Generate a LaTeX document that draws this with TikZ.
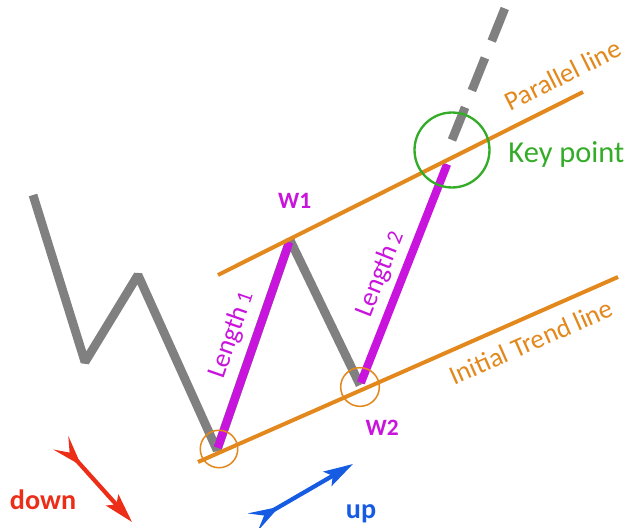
\documentclass[tikz,border=0pt]{standalone}
\usepackage{fontspec}
\setmainfont{Carlito}
\usetikzlibrary{arrows.meta,positioning}
\definecolor{wgray}{RGB}{128,128,128}
\definecolor{wpurple}{RGB}{200,20,220}
\definecolor{worange}{RGB}{226,136,28}
\definecolor{wgreen}{RGB}{52,172,40}
\definecolor{wred}{RGB}{236,46,24}
\definecolor{wblue}{RGB}{22,92,226}

\begin{document}
\begin{tikzpicture}[x=0.03cm,y=-0.03cm,
            wave/.style={wgray,line width=7.5pt,line join=bevel},
            leg/.style={wpurple,line width=7pt,shorten <=2pt,shorten >=2pt},
            trend/.style={worange,line width=3.4pt},
            ring/.style={circle,draw,line width=1.3pt,inner sep=0pt},
            lbl/.style={inner sep=0pt,font=\fontsize{23}{23}\selectfont},
            big/.style={inner sep=0pt,font=\bfseries\fontsize{20}{20}\selectfont},
            dir/.style={line width=3.6pt,{Stealth[reversed,length=26pt,width=17pt,inset=11pt]}-{Stealth[length=25pt,width=14pt,inset=5pt]}}]

            \useasboundingbox (0,0) rectangle (630,528);

            \coordinate (s0) at (33,195);
            \coordinate (s1) at (85,362);
            \coordinate (s2) at (138,275);
            \coordinate (b1) at (217,450);
            \coordinate (w1) at (290,240);
            \coordinate (w2) at (360,385);
            \coordinate (k) at (448,162);
            \coordinate (d0) at (452,140);
            \coordinate (d1) at (505,8);
            \coordinate (t0) at (198,462);
            \coordinate (t1) at (618,277);
            \coordinate (p0) at (218,275);
            \coordinate (p1) at (583,92);

            \draw[wave] (s0) -- (s1) -- (s2) -- (b1) -- (w1) -- (w2);
            \draw[wave,dash pattern=on 30pt off 15.5pt] (d0) -- (d1);

            \draw[leg] (b1) -- node[lbl,sloped,above=7pt,pos=0.51] (len1) {Length\,{\fontsize{19}{19}\selectfont 1}} (w1);
            \draw[leg] (w2) -- node[lbl,sloped,above=5pt,pos=0.46] (len2) {Length\,{\fontsize{19}{19}\selectfont 2}} (k);

            \draw[trend] (t0) -- node[lbl,sloped,below=11pt,pos=0.77] (trendlbl) {Initial Trend line} (t1);
            \draw[trend] (p0) -- node[lbl,sloped,above=11pt,pos=0.975] (parlbl) {Parallel line} (p1);

            \node[ring,worange,minimum size=32pt] (c1) at (219,449) {};
            \node[ring,worange,minimum size=33pt] (c2) at (360,387) {};
            \node[ring,wgreen,line width=2pt,minimum size=64pt] (key) at (452,150) {};

            \node[big,wpurple] (w1lbl) [above=27pt of w1,xshift=4pt] {W1};
            \node[big,wpurple] (w2lbl) [below=30pt of w2,xshift=19pt] {W2};
            \node[lbl,wgreen,font=\fontsize{26}{26}\selectfont] (keylbl) [right=15pt of key,yshift=-4pt] {Key point};

            \coordinate (r0) at (61,443);
            \coordinate (r1) at (132,522);
            \coordinate (u0) at (253,522);
            \coordinate (u1) at (353,464);
            \draw[dir,wred] (r0) -- (r1);
            \draw[dir,wblue] (u0) -- (u1);

            \node[big,wred,font=\bfseries\fontsize{24}{24}\selectfont] (down) at (43,500) {down};
            \node[big,wblue,font=\bfseries\fontsize{24}{24}\selectfont] (up) at (361,514) {up};

        \end{tikzpicture}
\end{document}
